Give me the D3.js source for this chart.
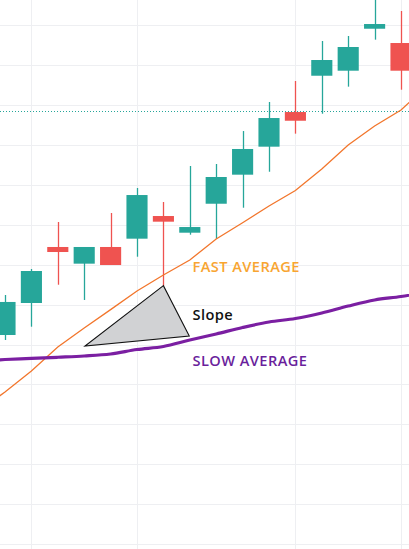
<!DOCTYPE html>
<html>
<head>
<meta charset="utf-8">
<script src="https://cdn.jsdelivr.net/npm/d3@7/dist/d3.min.js"></script>
<style>
  html, body { margin: 0; padding: 0; background: #fff; }
  svg { display: block; }
</style>
</head>
<body>
<svg id="chart" width="409" height="549"></svg>
<script>
// ---- data ----
const candleIdx = [0,1,2,3,4,5,6,7,8,9,10,11,12,13,14,15];
const opens  = [126.19,130.20,137.22,135.13,137.22,138.26,141.10,139.01,142.64,146.28,149.79,154.13,158.68,159.31,164.57,162.78];
const highs  = [131.20,134.46,140.35,137.22,141.48,144.61,142.86,147.37,147.62,151.75,155.39,158.02,163.03,163.66,169.17,166.79];
const lows   = [125.56,127.23,132.49,130.58,134.96,136.00,132.33,138.76,138.22,142.14,146.65,151.42,153.92,157.31,163.20,156.93];
const closes = [130.33,134.21,136.59,137.22,134.96,143.73,140.39,139.72,145.99,149.50,153.38,153.04,160.65,162.28,165.16,159.31];

const maIdx   = [-1,0,1,2,3,4,5,6,7,8,9,10,11,12,13,14,15,16];
const fastMA  = [116.67,119.05,121.68,124.69,127.07,129.37,131.70,133.71,135.59,138.22,140.26,142.36,144.30,146.99,150.00,152.38,154.39,157.39];
const slowMA  = [122.93,123.12,123.25,123.40,123.56,123.81,124.37,124.75,125.56,126.32,127.13,127.82,128.26,128.95,129.82,130.58,131.01,131.58];

const priceGrid = [100,105,110,115,120,125,130,135,140,145,150,155,160,165,170];
const timeGrid  = [1,5,11,15];
const priceLine = 154.22;

const slopeTriIdx   = [6.00, 3.03, 6.98];
const slopeTriPrice = [132.37, 124.81, 126.06];

const labels = [
  {text: "FAST AVERAGE", idx: 7.1, price: 134.1, color: "#f8a531"},
  {text: "Slope",        idx: 7.1, price: 128.1, color: "#111111"},
  {text: "SLOW AVERAGE", idx: 7.1, price: 122.3, color: "#6a1f9c"}
];

// ---- scales ----
const W = 409, H = 549;
const x = d3.scaleLinear().domain([0, 15]).range([5, 401]);
const y = d3.scaleLinear().domain([165, 100]).range([25.3, 544]);
const step = x(1) - x(0);
const bodyW = step * 0.8;

const svg = d3.select("#chart");

// grid
const g = svg.append("g");
g.selectAll(".hg").data(priceGrid).join("line")
  .attr("x1", 0).attr("x2", W)
  .attr("y1", d => Math.round(y(d)) + 0.5).attr("y2", d => Math.round(y(d)) + 0.5)
  .attr("stroke", "#eeeff2").attr("stroke-width", 1);
g.selectAll(".vg").data(timeGrid).join("line")
  .attr("y1", 0).attr("y2", H)
  .attr("x1", d => Math.round(x(d)) + 0.5).attr("x2", d => Math.round(x(d)) + 0.5)
  .attr("stroke", "#eeeff2").attr("stroke-width", 1);

// price line (dotted)
svg.append("line")
  .attr("x1", 0).attr("x2", W)
  .attr("y1", Math.round(y(priceLine)) + 0.5).attr("y2", Math.round(y(priceLine)) + 0.5)
  .attr("stroke", "#26a69a").attr("stroke-width", 1)
  .attr("stroke-dasharray", "1,2");

// candles
const candles = candleIdx.map((i, k) => ({i, o: opens[k], h: highs[k], l: lows[k], c: closes[k]}));
const cg = svg.append("g");
const cand = cg.selectAll("g").data(candles).join("g");
const colorOf = d => d.c >= d.o ? "#26a69a" : "#ef5350";
cand.append("line")
  .attr("x1", d => Math.round(x(d.i)) + 0.5).attr("x2", d => Math.round(x(d.i)) + 0.5)
  .attr("y1", d => y(d.h)).attr("y2", d => y(d.l))
  .attr("stroke", colorOf).attr("stroke-width", 1.3);
cand.append("rect")
  .attr("x", d => x(d.i) - bodyW / 2)
  .attr("width", bodyW)
  .attr("y", d => y(Math.max(d.o, d.c)))
  .attr("height", d => Math.max(1, y(Math.min(d.o, d.c)) - y(Math.max(d.o, d.c))))
  .attr("fill", colorOf);

// moving averages
const lineGen = d3.line().x(d => x(d[0])).y(d => y(d[1]));
const smoothGen = d3.line().x(d => x(d[0])).y(d => y(d[1])).curve(d3.curveMonotoneX);
svg.append("path")
  .attr("d", lineGen(maIdx.map((i, k) => [i, fastMA[k]])))
  .attr("fill", "none").attr("stroke", "#f2762c").attr("stroke-width", 1.3);
svg.append("path")
  .attr("d", smoothGen(maIdx.map((i, k) => [i, slowMA[k]])))
  .attr("fill", "none").attr("stroke", "#7b1fa2").attr("stroke-width", 3.2)
  .attr("stroke-linejoin", "round");

// slope triangle
svg.append("path")
  .attr("d", d3.line()(slopeTriIdx.map((i, k) => [x(i), y(slopeTriPrice[k])])) + "Z")
  .attr("fill", "#d1d2d4").attr("stroke", "#111").attr("stroke-width", 1.1)
  .attr("stroke-linejoin", "miter");

// labels
svg.selectAll(".lbl").data(labels).join("text")
  .attr("x", d => x(d.idx)).attr("y", d => y(d.price))
  .attr("fill", d => d.color)
  .attr("font-family", "'Open Sans', sans-serif")
  .attr("font-weight", 600)
  .attr("font-size", 14.6)
  .attr("letter-spacing", 0.45)
  .text(d => d.text);
</script>
</body>
</html>
